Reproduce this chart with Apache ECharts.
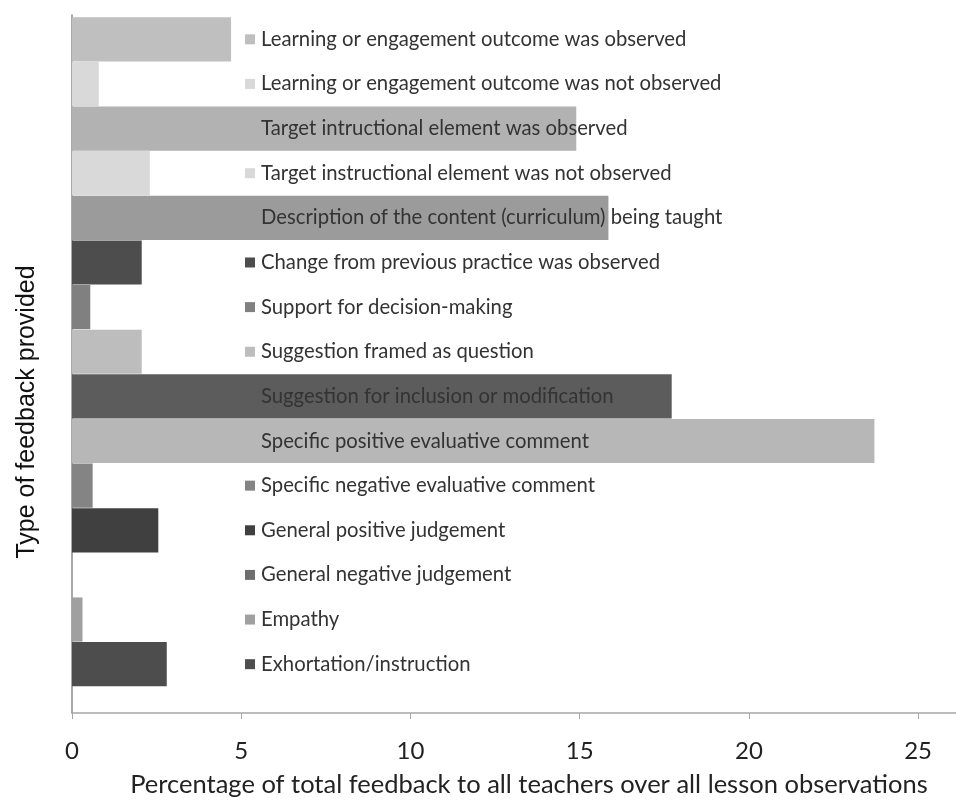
<!DOCTYPE html>
<html><head><meta charset="utf-8">
<script src="https://cdn.jsdelivr.net/npm/echarts@6/dist/echarts.min.js"></script>
<style>html,body{margin:0;padding:0;background:#fff}#c{width:956px;height:803px}</style>
</head><body><div id="c"></div>
<script>
const categories = [
  "Learning or engagement outcome was observed",
  "Learning or engagement outcome was not observed",
  "Target intructional element was observed",
  "Target instructional element was not observed",
  "Description of the content (curriculum) being taught",
  "Change from previous practice was observed",
  "Support for decision-making",
  "Suggestion framed as question",
  "Suggestion for inclusion or modification",
  "Specific positive evaluative comment",
  "Specific negative evaluative comment",
  "General positive judgement",
  "General negative judgement",
  "Empathy",
  "Exhortation/instruction"
];
const values = [4.70, 0.79, 14.9, 2.30, 15.85, 2.06, 0.54, 2.06, 17.72, 23.71, 0.61, 2.55, 0, 0.31, 2.80];
const colors = ["#bfbfbf","#d9d9d9","#b2b2b2","#d9d9d9","#9b9b9b","#4d4d4d","#808080","#bdbdbd","#5c5c5c","#b7b7b7","#848484","#404040","#6e6e6e","#a0a0a0","#4d4d4d"];
const xTickLabels = [0, 5, 10, 15, 20, 25];
const xName = "Percentage of total feedback to all teachers over all lesson observations";
const yName = "Type of feedback provided";

const chart = echarts.init(document.getElementById('c'), null, {renderer: 'canvas'});
const L = 72, R = 0, XMAX = 26.12;
const textStyleT = {fontFamily: 'Lato', fontSize: 20.3, color: '#333', padding: [0, 0, 0, 6]};
chart.setOption({
  animation: false,
  backgroundColor: '#fff',
  grid: [
    {left: L, right: R, top: 17, height: 669.5, containLabel: false},
    {left: L, right: R, top: 15, bottom: 84, containLabel: false}
  ],
  xAxis: [
    {gridIndex: 0, type: 'value', min: 0, max: XMAX, show: false},
    {gridIndex: 1, type: 'value', min: 0, max: XMAX, interval: 5,
     axisLine: {show: true, lineStyle: {color: '#a6a6a6', width: 1.5}},
     axisTick: {show: true, length: 6, lineStyle: {color: '#a6a6a6'}},
     splitLine: {show: false},
     axisLabel: {margin: 26, fontFamily: 'Lato', fontSize: 24, color: '#222',
       showMaxLabel: false,
       formatter: v => (xTickLabels.indexOf(v) >= 0 ? String(v) : '')},
     name: xName, nameLocation: 'middle', nameGap: 59,
     nameTextStyle: {fontFamily: 'Lato', fontSize: 25.5, color: '#222', padding: [0, 0, 0, 30]}
    }
  ],
  yAxis: [
    {gridIndex: 0, type: 'category', data: categories, inverse: true, show: false},
    {gridIndex: 1, type: 'value', min: 0, max: 1,
     axisLine: {show: true, lineStyle: {color: '#8c8c8c', width: 1.5}},
     axisTick: {show: false}, axisLabel: {show: false}, splitLine: {show: false},
     name: yName, nameLocation: 'middle', nameGap: 32, nameRotate: 90,
     nameTextStyle: {fontFamily: 'Liberation Sans', fontSize: 25, color: '#111', padding: [0, 96, 0, 0]}
    }
  ],
  series: [{
    type: 'bar', xAxisIndex: 0, yAxisIndex: 0,
    barCategoryGap: '1%',
    data: values.map((v, i) => ({
      value: v,
      itemStyle: {color: colors[i]},
      label: {rich: {
        m: {width: 10, height: 10, backgroundColor: colors[i]},
        t: textStyleT
      }}
    })),
    label: {
      show: true, position: [173, '50%'], align: 'left', verticalAlign: 'middle',
      formatter: '{m| }{t|{b}}',
      rich: {m: {width: 10, height: 10}, t: textStyleT}
    },
    z: 3
  }]
});
</script></body></html>
